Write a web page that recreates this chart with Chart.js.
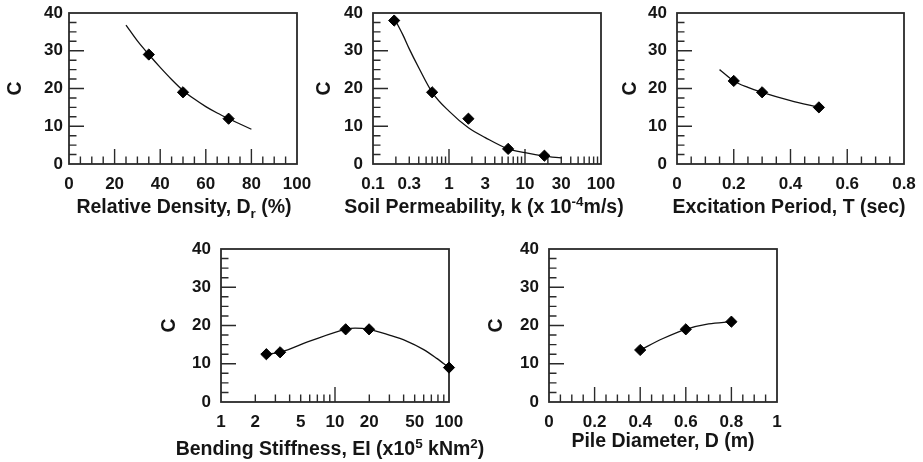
<!DOCTYPE html>
<html>
<head>
<meta charset="utf-8">
<script src="https://cdn.jsdelivr.net/npm/chart.js@4"></script>
<style>
  html, body { margin: 0; padding: 0; background: #fff; overflow: hidden; }
  #wrap { position: relative; width: 923px; height: 462px; }
  #wrap canvas { position: absolute; }
</style>
</head>
<body>
<div id="wrap"></div>
<script>
// measured C values (diamonds) and the trend curve drawn through them
const densityX = [35, 50, 70];
const densityC = [29, 19, 12];
const densityFitX = [25, 30, 35, 40, 45, 50, 55, 60, 65, 70, 75, 80];
const densityFitC = [36.8, 32.6, 29, 25.6, 22.4, 19.5, 17.2, 15.2, 13.5, 12, 10.6, 9.2];

const permX = [0.19, 0.6, 1.8, 6, 18];
const permC = [38, 19, 12, 4, 2.2];
const permFitX = [0.2, 0.25, 0.3, 0.4, 0.6, 1, 1.8, 3, 6, 10, 18, 30];
const permFitC = [37.8, 34, 30.5, 25.5, 19, 14, 9.6, 7, 4, 3, 2.1, 1.6];

const periodX = [0.2, 0.3, 0.5];
const periodC = [22, 19, 15];
const periodFitX = [0.15, 0.2, 0.25, 0.3, 0.4, 0.5];
const periodFitC = [25, 22, 20.3, 19, 16.8, 15];

const stiffX = [2.5, 3.3, 12.4, 19.9, 100];
const stiffC = [12.5, 13, 19, 19, 9];
const stiffFitX = [2.5, 3.3, 6, 12.4, 15, 19.9, 30, 42, 60, 78, 100];
const stiffFitC = [12.5, 13, 15.9, 19, 19.3, 19, 17.5, 16, 13.7, 11.4, 9];

const diaX = [0.4, 0.6, 0.8];
const diaC = [13.6, 19, 21];
const diaFitX = [0.4, 0.5, 0.6, 0.7, 0.8];
const diaFitC = [13.6, 16.6, 19, 20.4, 21];

// tick labels
const yTicks = [0, 10, 20, 30, 40];
const densityTicks = [0, 20, 40, 60, 80, 100];
const permTicks = [0.1, 0.3, 1, 3, 10, 30, 100];
const periodTicks = [0, 0.2, 0.4, 0.6, 0.8];
const stiffTicks = [1, 2, 5, 10, 20, 50, 100];
const diaTicks = [0, 0.2, 0.4, 0.6, 0.8, 1];

const FAMILY = "'Liberation Sans', Arial, Helvetica, sans-serif";
const INK = '#151515';

function linMarks(min, max, step) {
  const out = [];
  for (let v = min + step; v < max - step / 2; v += step) out.push(+v.toFixed(4));
  return out;
}
function logMarks(min, max) {
  const out = [];
  for (let d = min; d < max; d *= 10) {
    for (let m = 1; m < 10; m++) {
      const v = +(d * m).toPrecision(3);
      if (v > min && v < max) out.push(v);
    }
  }
  return out;
}

const panels = [
  { plot: [69, 13, 228, 151], type: 'linear', min: 0, max: 100, ticks: densityTicks,
    minor: linMarks(0, 100, 5), major: linMarks(0, 100, 20),
    pts: [densityX, densityC], fit: [densityFitX, densityFitC], yPad: 6,
    title: [['Relative Density, D'], ['r', 'sub'], [' (%)']], titleX: 184, titleY: 213, cX: 16 },
  { plot: [373, 13, 228, 151], type: 'logarithmic', min: 0.1, max: 100, ticks: permTicks,
    minor: logMarks(0.1, 100), major: [1, 10],
    pts: [permX, permC], fit: [permFitX, permFitC], yPad: 10,
    title: [['Soil Permeability, k (x 10'], ['-4', 'sup'], ['m/s)']], titleX: 484, titleY: 213, cX: 325 },
  { plot: [677, 13, 227, 151], type: 'linear', min: 0, max: 0.8, ticks: periodTicks,
    minor: linMarks(0, 0.8, 0.05), major: linMarks(0, 0.8, 0.2),
    pts: [periodX, periodC], fit: [periodFitX, periodFitC], yPad: 10,
    title: [['Excitation Period, T (sec)']], titleX: 789, titleY: 213, cX: 631 },
  { plot: [221, 249, 228, 153], type: 'logarithmic', min: 1, max: 100, ticks: stiffTicks,
    minor: logMarks(1, 100), major: [10],
    pts: [stiffX, stiffC], fit: [stiffFitX, stiffFitC], yPad: 10,
    title: [['Bending Stiffness, EI (x10'], ['5', 'sup'], [' kNm'], ['2', 'sup'], [')']], titleX: 330, titleY: 455, cX: 170 },
  { plot: [549, 249, 228, 153], type: 'linear', min: 0, max: 1, ticks: diaTicks,
    minor: linMarks(0, 1, 0.05), major: linMarks(0, 1, 0.2),
    pts: [diaX, diaC], fit: [diaFitX, diaFitC], yPad: 10,
    title: [['Pile Diameter, D (m)']], titleX: 663, titleY: 447, cX: 497 }
];

// room reserved round each plot area inside its canvas
const Y_W = 72, PAD_T = 26, PAD_R = 40, X_H = 62;
const MAJOR_LEN = 15, MINOR_LEN = 7.5;

function drawRich(ctx, parts, cx, baseline) {
  const big = 'bold 19.5px ' + FAMILY, small = 'bold 13.5px ' + FAMILY;
  let total = 0;
  parts.forEach(([t, k]) => { ctx.font = k ? small : big; total += ctx.measureText(t).width; });
  let x = cx - total / 2;
  ctx.textAlign = 'left';
  ctx.textBaseline = 'alphabetic';
  parts.forEach(([t, k]) => {
    ctx.font = k ? small : big;
    const dy = k === 'sup' ? -7.5 : k === 'sub' ? 4.5 : 0;
    ctx.fillText(t, x, baseline + dy);
    x += ctx.measureText(t).width;
  });
}

// frame, inward tick marks and the axis titles
const axisDecor = {
  id: 'axisDecor',
  beforeDatasetsDraw(chart, args, o) {
    const { ctx, chartArea: a } = chart;
    const xs = chart.scales.x, ys = chart.scales.y;
    ctx.save();
    ctx.strokeStyle = '#2a2a2a';
    ctx.lineWidth = 1.4;
    ctx.beginPath();
    o.minor.forEach(v => {
      const px = xs.getPixelForValue(v);
      const len = o.major.includes(v) ? MAJOR_LEN : MINOR_LEN;
      ctx.moveTo(px, a.bottom); ctx.lineTo(px, a.bottom - len);
    });
    linMarks(0, 40, 2.5).forEach(v => {
      const py = ys.getPixelForValue(v);
      const len = v % 10 === 0 ? MAJOR_LEN : MINOR_LEN;
      ctx.moveTo(a.left, py); ctx.lineTo(a.left + len, py);
    });
    ctx.stroke();
    ctx.lineWidth = 1.8;
    ctx.strokeRect(a.left, a.top, a.right - a.left, a.bottom - a.top);
    ctx.restore();
  },
  afterDraw(chart, args, o) {
    const { ctx, chartArea: a } = chart;
    ctx.save();
    ctx.fillStyle = INK;
    drawRich(ctx, o.title, o.titleX - o.ox, o.titleY - o.oy);
    ctx.translate(o.cX - o.ox, (a.top + a.bottom) / 2);
    ctx.rotate(-Math.PI / 2);
    ctx.font = 'bold 19.5px ' + FAMILY;
    ctx.textAlign = 'center';
    ctx.textBaseline = 'middle';
    ctx.fillText('C', 0, 0);
    ctx.restore();
  }
};

const fmt = v => String(+(+v).toFixed(3));
const wrap = document.getElementById('wrap');

panels.forEach(p => {
  const [left, top, w, h] = p.plot;
  const ox = left - Y_W, oy = top - PAD_T;
  const canvas = document.createElement('canvas');
  canvas.width = w + Y_W + PAD_R;
  canvas.height = h + PAD_T + X_H;
  canvas.style.left = ox + 'px';
  canvas.style.top = oy + 'px';
  wrap.appendChild(canvas);

  const tickFont = { family: FAMILY, size: 17, weight: 'bold' };

  new Chart(canvas.getContext('2d'), {
    type: 'scatter',
    data: {
      datasets: [
        {
          data: p.pts[0].map((x, i) => ({ x, y: p.pts[1][i] })),
          showLine: false,
          pointStyle: 'rectRot',
          pointRadius: 5.6,
          pointBackgroundColor: '#000',
          pointBorderColor: '#000',
          pointBorderWidth: 1,
          clip: false
        },
        {
          data: p.fit[0].map((x, i) => ({ x, y: p.fit[1][i] })),
          showLine: true,
          borderColor: '#111',
          borderWidth: 1.3,
          pointRadius: 0,
          cubicInterpolationMode: 'monotone',
          clip: false
        }
      ]
    },
    options: {
      responsive: false,
      animation: false,
      devicePixelRatio: 1,
      events: [],
      layout: { padding: { top: PAD_T, right: PAD_R, left: 0, bottom: 0 } },
      plugins: {
        legend: { display: false },
        tooltip: { enabled: false },
        axisDecor: Object.assign({ ox, oy }, p)
      },
      scales: {
        x: {
          type: p.type, min: p.min, max: p.max,
          grid: { display: false, drawTicks: false },
          border: { display: false },
          afterBuildTicks: s => { s.ticks = p.ticks.map(v => ({ value: v })); },
          afterFit: s => { s.height = X_H; },
          ticks: { autoSkip: false, maxRotation: 0, padding: 10, color: INK, font: tickFont, callback: fmt }
        },
        y: {
          type: 'linear', min: 0, max: 40,
          grid: { display: false, drawTicks: false },
          border: { display: false },
          afterBuildTicks: s => { s.ticks = yTicks.map(v => ({ value: v })); },
          afterFit: s => { s.width = Y_W; },
          ticks: { padding: p.yPad, color: INK, font: tickFont, callback: fmt }
        }
      }
    },
    plugins: [axisDecor]
  });
});
</script>
</body>
</html>
